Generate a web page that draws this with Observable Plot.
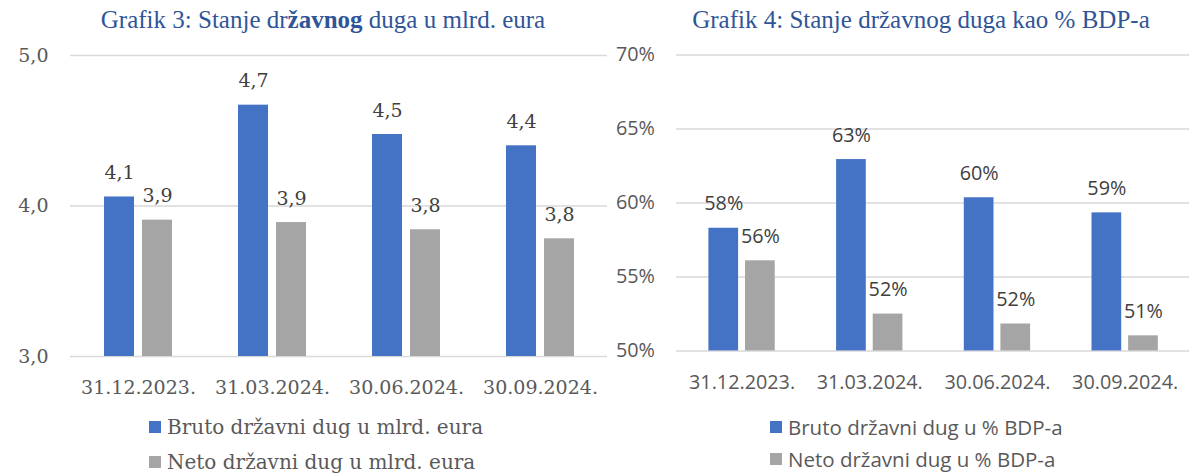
<!DOCTYPE html>
<html>
<head>
<meta charset="utf-8">
<script src="https://cdn.jsdelivr.net/npm/d3@7"></script>
<script src="https://cdn.jsdelivr.net/npm/@observablehq/plot@0.6"></script>
<style>
  html, body { margin: 0; padding: 0; background: #fff; }
  #page { position: relative; width: 1189px; height: 473px; overflow: hidden; background: #fff; }
  .title { position: absolute; top: 6px; color: #2F5597; font-family: "Liberation Serif", serif; font-size: 25px; white-space: nowrap; transform: translateX(-50%); }
  .chart { position: absolute; top: 0; }
  .legend { position: absolute; white-space: nowrap; color: #595959; }
  .legend .row { display: flex; align-items: center; }
  .legend .sw { display: inline-block; width: 12px; height: 12px; margin-right: 6px; }
</style>
</head>
<body>
<div id="page">
  <div class="title" style="left:323px">Grafik 3: Stanje dr<b>žavnog</b> duga u mlrd. eura</div>
  <div class="title" style="left:921px">Grafik 4: Stanje državnog duga kao % BDP-a</div>
  <div id="left" class="chart" style="left:0px"></div>
  <div id="right" class="chart" style="left:600px"></div>
  <div id="legL" class="legend" style="left:149px; top:409px; font-family:'DejaVu Serif', serif; font-size:20px;"></div>
  <div id="legR" class="legend" style="left:770px; top:411px; font-family:'Open Sans', sans-serif; font-size:20.5px;"></div>
</div>
<script>
// ---- data ----
const categories = ["31.12.2023.", "31.03.2024.", "30.06.2024.", "30.09.2024."];
const brutoMlrd = [4.06, 4.67, 4.475, 4.40];
const netoMlrd  = [3.906, 3.89, 3.842, 3.782];
const brutoPct  = [58.29, 62.93, 60.35, 59.33];
const netoPct   = [56.09, 52.49, 51.82, 51.02];
const leftTicks  = [3, 4, 5];
const rightTicks = [50, 55, 60, 65, 70];
const seriesLeft  = ["Bruto državni dug u mlrd. eura", "Neto državni dug u mlrd. eura"];
const seriesRight = ["Bruto državni dug u % BDP-a", "Neto državni dug u % BDP-a"];
const colors = ["#4472C4", "#A5A5A5"];

const fmtMlrd = v => v.toFixed(1).replace(".", ",");
const fmtPct = v => Math.round(v) + "%";

function makeChart({values1, values2, domain, ticks, tickFmt, labelFmt, width, marginLeft, marginRight, marginBottom, dxOff, font, fontSize, tickPad}) {
  const rows1 = categories.map((c, i) => ({cat: c, v: values1[i]}));
  const rows2 = categories.map((c, i) => ({cat: c, v: values2[i]}));
  const plotW = width - marginLeft - marginRight;
  const step = plotW / 4;
  const pi = 1 - 30 / step;
  return Plot.plot({
    width, height: 410,
    marginLeft, marginRight, marginTop: 55, marginBottom,
    style: {fontFamily: font, fontSize: fontSize + "px", color: "#595959", background: "transparent", overflow: "visible"},
    x: {domain: categories, paddingInner: pi, paddingOuter: pi / 2, label: null},
    y: {domain, label: null},
    marks: [
      Plot.ruleY(ticks, {stroke: "#D9D9D9", strokeWidth: 1.5}),
      Plot.barY(rows1, {x: "cat", y1: domain[0], y2: "v", fill: colors[0], dx: -dxOff}),
      Plot.barY(rows2, {x: "cat", y1: domain[0], y2: "v", fill: colors[1], dx: dxOff}),
      Plot.text(rows1, {x: "cat", y: "v", text: d => labelFmt(d.v), dx: -dxOff, dy: -18, lineAnchor: "bottom", fill: "#404040", fontSize}),
      Plot.text(rows2, {x: "cat", y: "v", text: d => labelFmt(d.v), dx: dxOff, dy: -18, lineAnchor: "bottom", fill: "#404040", fontSize}),
      Plot.axisY({ticks, tickSize: 0, tickPadding: tickPad, tickFormat: tickFmt, label: null, fontSize}),
      Plot.axisX({tickSize: 0, tickPadding: 24, label: null, fontSize})
    ]
  });
}

document.getElementById("left").appendChild(makeChart({
  values1: brutoMlrd, values2: netoMlrd, domain: [3, 5], ticks: leftTicks,
  tickFmt: fmtMlrd, labelFmt: fmtMlrd, width: 610, marginLeft: 70, marginRight: 3, marginBottom: 54,
  dxOff: 19, font: "DejaVu Serif", fontSize: 19, tickPad: 22
}));

document.getElementById("right").appendChild(makeChart({
  values1: brutoPct, values2: netoPct, domain: [50, 70], ticks: rightTicks,
  tickFmt: d => d + "%", labelFmt: fmtPct, width: 595, marginLeft: 77, marginRight: 0, marginBottom: 56,
  dxOff: 18.5, font: "Open Sans", fontSize: 20, tickPad: 22
}));

function legend(el, names, gap) {
  names.forEach((n, i) => {
    const row = document.createElement("div");
    row.className = "row";
    row.style.height = gap + "px";
    const sw = document.createElement("span");
    sw.className = "sw";
    sw.style.background = colors[i];
    const t = document.createElement("span");
    t.textContent = n;
    row.appendChild(sw); row.appendChild(t);
    el.appendChild(row);
  });
}
legend(document.getElementById("legL"), seriesLeft, 35);
legend(document.getElementById("legR"), seriesRight, 32);
</script>
</body>
</html>
